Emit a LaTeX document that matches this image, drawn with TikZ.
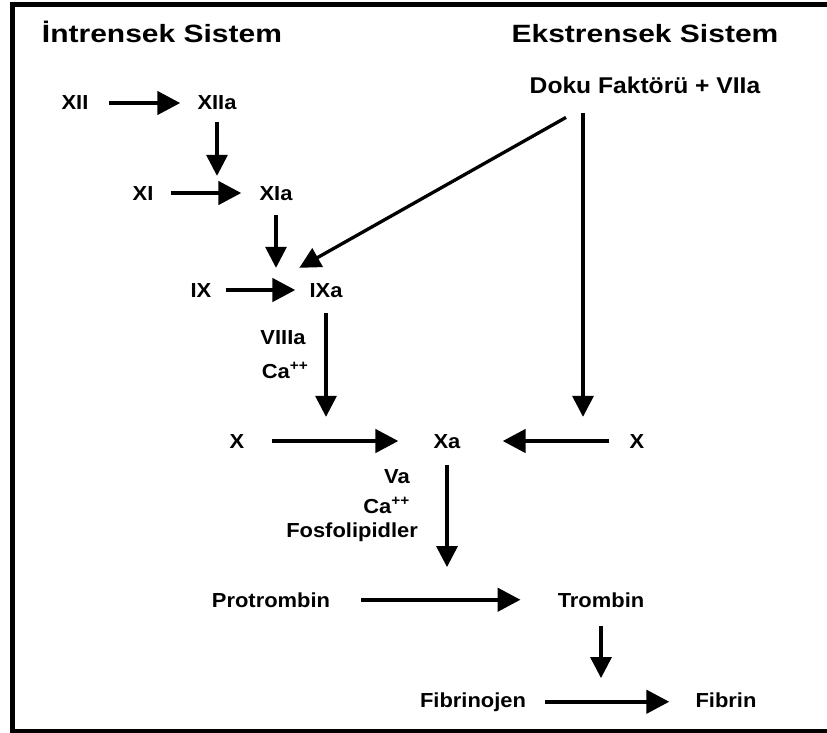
\documentclass[tikz,border=0pt]{standalone}
\usepackage{fontspec}
\setmainfont[FakeStretch=1.08]{Liberation Sans}
\newfontfamily\hdrfont[FakeStretch=1.2]{Liberation Sans}
\usetikzlibrary{arrows.meta,calc,positioning}

\begin{document}
\begin{tikzpicture}[x=1pt,y=1pt,yscale=-1,xscale=1,
  lbl/.style={anchor=base,inner sep=0pt,font=\fontsize{20.3}{23}\selectfont\bfseries},
  hdr/.style={anchor=base,inner sep=0pt,font=\hdrfont\fontsize{25}{30}\selectfont\bfseries},
  harr/.style={line width=4.5pt,-{Triangle[length=23pt,width=23pt]}},
  varr/.style={line width=3.3pt,-{Triangle[length=21pt,width=21pt]}}]
  %set diagram at 827 x 733, frame runs off the right side
  \useasboundingbox (0,0) rectangle (827,733);
  \draw[line width=5pt] (12.5,4.5) rectangle (850,731.5);

  % Headings
  \node[hdr] (intr) at (162,43) {İntrensek Sistem};
  \node[hdr] (ekst) at (645,43) {Ekstrensek Sistem};
  \node[lbl,font=\fontsize{22.8}{26}\selectfont\bfseries] (doku) at (645,94) {Doku Faktörü + VIIa};

  % Factors
  \node[lbl] (XII) at (75,110) {XII};
  \node[lbl] (XIIa) at (217,110) {XIIa};
  \node[lbl] (XI) at (143,200) {XI};
  \node[lbl] (XIa) at (276,200) {XIa};
  \node[lbl] (IX) at (201,297) {IX};
  \node[lbl] (IXa) at (326,297) {IXa};
  \node[lbl] (VIIIa) at (283,344) {VIIIa};
  \node[lbl] (Ca1) at (285,378) {Ca\textsuperscript{++}};
  \node[lbl] (Xl) at (237,448) {X};
  \node[lbl] (Xa) at (447,448) {Xa};
  \node[lbl] (Xr) at (637,448) {X};
  \node[lbl,anchor=base east] (Va) at (410,483) {Va};
  \node[lbl,anchor=base east] (Ca2) at (410,513) {Ca\textsuperscript{++}};
  \node[lbl,anchor=base east] (fosf) at (418,537) {Fosfolipidler};
  \node[lbl] (protr) at (271,607) {Protrombin};
  \node[lbl] (tromb) at (601,607) {Trombin};
  \node[lbl] (fibno) at (473,707) {Fibrinojen};
  \node[lbl] (fibr) at (726,707) {Fibrin};

  \coordinate (dkv) at ($(doku.south)+(-62,0)$);
  \coordinate (dkd) at ($(doku.south)+(-79,23)$);

  % Horizontal steps
  \draw[harr,shorten <=20pt,shorten >=17pt] (XII.east) -- (XII.east -| XIIa.west);
  \draw[harr,shorten <=17pt,shorten >=18pt] (XI.east) -- (XI.east -| XIa.west);
  \draw[harr,shorten <=14pt,shorten >=14pt] (IX.east) -- (IX.east -| IXa.west);
  \draw[harr,shorten <=27pt,shorten >=35pt] (Xl.east) -- (Xl.east -| Xa.west);
  \draw[harr,shorten <=20pt,shorten >=42pt] (Xr.west) -- (Xr.west -| Xa.east);
  \draw[harr,shorten <=31pt,shorten >=37pt] (protr.east) -- (protr.east -| tromb.west);
  \draw[harr,shorten <=19pt,shorten >=26pt] (fibno.east) -- (fibno.east -| fibr.west);

  % Vertical steps
  \draw[varr,shorten <=12pt,shorten >=10pt] (XIIa.south) -- (XIIa.south |- XIa.north);
  \draw[varr,shorten <=15pt,shorten >=15pt] (XIa.south) -- (XIa.south |- IXa.north);
  \draw[varr,shorten <=16pt,shorten >=17pt] (IXa.south) -- (IXa.south |- Xl.north);
  \draw[varr,shorten <=19pt,shorten >=17pt] (dkv) -- (dkv |- Xr.north);
  \draw[varr] (dkd) -- ($(IXa.north west)+(-10,-15)$);
  \draw[varr,shorten <=17pt,shorten >=25pt] (Xa.south) -- (Xa.south |- tromb.north);
  \draw[varr,shorten <=19pt,shorten >=14pt] (tromb.south) -- (tromb.south |- fibr.north);
\end{tikzpicture}
\end{document}
